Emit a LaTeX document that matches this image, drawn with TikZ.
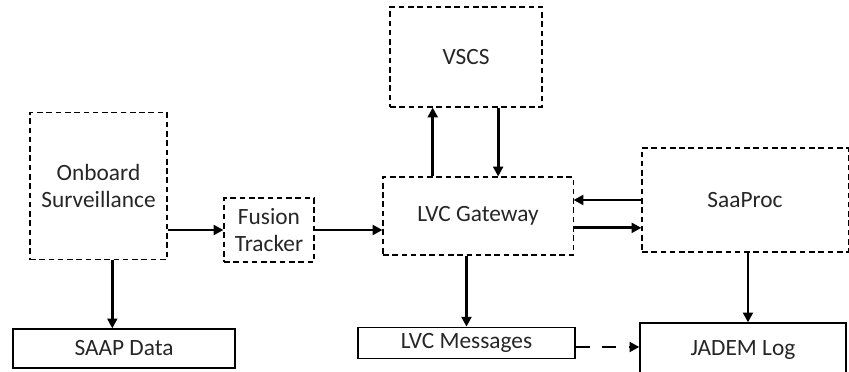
\documentclass[tikz,border=0pt]{standalone}
\usepackage{fontspec}
\setmainfont{Carlito}
\usepackage{xcolor}
\usepackage{tikz}
\usetikzlibrary{calc,arrows.meta}
\definecolor{ink}{HTML}{262626}
\tikzset{
  lab/.style={text=ink, font=\fontsize{16.6}{19.2}\selectfont, align=center, inner sep=0pt},
  dbox/.style={lab, draw=black, line width=0.75pt, dash pattern=on 4pt off 2.6pt},
  sbox/.style={lab, draw=black, line width=0.9pt},
  arr/.style={draw=black, line width=2.1pt, -{Triangle[length=7pt,width=7pt]}},
  darr/.style={arr, dash pattern=on 10pt off 9pt},
}
\begin{document}
\begin{tikzpicture}[x=0.025cm, y=-0.025cm]
  \clip (0,0) rectangle (849,372);
  % blocks
  \node[dbox, minimum width=3.425cm, minimum height=3.675cm] (onboard) at (98.5,186) {Onboard\\Surveillance};
  \node[dbox, minimum width=2.25cm, minimum height=1.6cm] (fusion) at (269,230) {Fusion\\Tracker};
  \node[sbox, minimum width=5.55cm, minimum height=0.975cm] (saap) at (124,348.5) {SAAP Data};
  \node[dbox, minimum width=3.8cm, minimum height=2.5cm] (vscs) at (466,57) {VSCS};
  \node[dbox, minimum width=4.75cm, minimum height=1.95cm] (gateway) at (478,216) {LVC Gateway};
  \node[dbox, minimum width=5.15cm, minimum height=2.6cm] (saaproc) at (745,200) {SaaProc};
  \node[sbox, minimum width=5.425cm, minimum height=0.775cm] (lvcmsg) at (466.5,342.8) {LVC Messages};
  \node[sbox, minimum width=5.15cm, minimum height=1.35cm] (jadem) at (743,350) {JADEM Log};
  % links
  \coordinate (os) at ($(onboard.south west)!0.6!(onboard.south east)$);
  \coordinate (gu) at ($(gateway.north west)!0.263!(gateway.north east)$);
  \coordinate (vd) at ($(vscs.south west)!0.71!(vscs.south east)$);
  \coordinate (gs) at ($(gateway.north east)!0.65!(gateway.south east)$);
  \coordinate (jn) at ($(jadem.north west)!0.524!(jadem.north east)$);
  \coordinate (lm) at ($(lvcmsg.north east)!0.63!(lvcmsg.south east)$);
  \draw[arr] (onboard.east |- fusion.west) -- (fusion.west);
  \draw[arr] (os) -- (os |- saap.north);
  \draw[arr] (fusion.east) -- (fusion.east -| gateway.west);
  \draw[arr] (gu) -- (gu |- vscs.south);
  \draw[arr] (vd) -- (vd |- gateway.north);
  \draw[arr] (saaproc.west) -- (saaproc.west -| gateway.east);
  \draw[arr] (gs) -- (gs -| saaproc.west);
  \draw[arr] (lvcmsg.north |- gateway.south) -- (lvcmsg.north);
  \draw[arr] (jn |- saaproc.south) -- (jn);
  \draw[darr] (lm) -- (lm -| jadem.west);
\end{tikzpicture}
\end{document}
